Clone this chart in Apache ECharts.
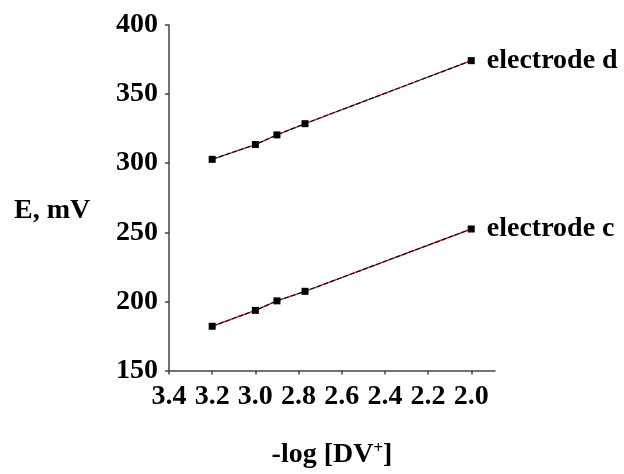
<!DOCTYPE html>
<html>
<head>
<meta charset="utf-8">
<script src="https://cdn.jsdelivr.net/npm/echarts@6/dist/echarts.min.js"></script>
<style>
  html, body { margin: 0; padding: 0; background: #fff; }
  #chart { width: 624px; height: 474px; }
</style>
</head>
<body>
<div id="chart"></div>
<script>
// -log[DV+] values of the calibration standards
const logConc = [3.2, 3.0, 2.9, 2.77, 2.0];
// Potential readings (mV) for each electrode
const electrodeD = [302.8, 313.5, 320.5, 328.6, 374.2];
const electrodeC = [182.0, 193.5, 200.4, 207.3, 252.4];
// Tick labels on the concentration axis
const xTicks = [3.4, 3.2, 3.0, 2.8, 2.6, 2.4, 2.2, 2.0];
const seriesNames = ['electrode d', 'electrode c'];

const FONT = "'Liberation Serif', 'Times New Roman', serif";
const FS = 28;

function pairs(ys) {
  return ys.map((y, i) => [logConc[i], y]);
}

function makeSeries(name, ys) {
  const data = pairs(ys);
  const last = data.length - 1;
  return [
    {
      // reddish regression trace underneath
      type: 'line',
      data: data,
      symbol: 'none',
      silent: true,
      lineStyle: { color: '#c03030', width: 1.4 },
      z: 2
    },
    {
      name: name,
      type: 'line',
      data: data.map((d, i) => i === last ? {
        value: d,
        label: {
          show: true,
          position: 'right',
          distance: 12,
          formatter: name,
          fontFamily: FONT,
          fontWeight: 'bold',
          fontSize: FS,
          color: '#000'
        }
      } : d),
      symbol: 'rect',
      symbolSize: 7,
      itemStyle: { color: '#000' },
      lineStyle: { color: '#111', width: 1.2, type: [5, 2] },
      z: 3
    }
  ];
}

const chart = echarts.init(document.getElementById('chart'));
chart.setOption({
  animation: false,
  backgroundColor: '#fff',
  grid: { left: 169, right: 129, top: 25, bottom: 100 },
  graphic: [{
    type: 'text',
    left: 14,
    top: 197,
    style: {
      text: 'E, mV',
      fontFamily: FONT, fontWeight: 'bold', fontSize: FS, fill: '#000'
    }
  }],
  xAxis: {
    type: 'value',
    inverse: true,
    min: 1.89,
    max: 3.4,
    name: '-log [DV{sup|+}]',
    nameLocation: 'middle',
    nameGap: 70,
    nameTextStyle: {
      fontFamily: FONT, fontWeight: 'bold', fontSize: FS, color: '#000',
      rich: {
        sup: { fontFamily: FONT, fontWeight: 'bold', fontSize: 17, color: '#000', verticalAlign: 'top', padding: [0, 0, 12, 0] }
      }
    },
    axisLine: { show: true, onZero: false, lineStyle: { color: '#444', width: 1.5 } },
    axisTick: { show: true, length: 4, customValues: xTicks, lineStyle: { color: '#444', width: 1.5 } },
    axisLabel: {
      customValues: xTicks,
      formatter: v => v.toFixed(1),
      margin: 12,
      fontFamily: FONT, fontWeight: 'bold', fontSize: FS, color: '#000'
    },
    splitLine: { show: false }
  },
  yAxis: {
    type: 'value',
    min: 150,
    max: 400,
    interval: 50,
    axisLine: { show: true, lineStyle: { color: '#444', width: 1.5 } },
    axisTick: { show: true, length: 4, lineStyle: { color: '#444', width: 1.5 } },
    axisLabel: {
      margin: 11,
      fontFamily: FONT, fontWeight: 'bold', fontSize: FS, color: '#000'
    },
    splitLine: { show: false }
  },
  series: [].concat(makeSeries(seriesNames[0], electrodeD), makeSeries(seriesNames[1], electrodeC))
});
</script>
</body>
</html>
